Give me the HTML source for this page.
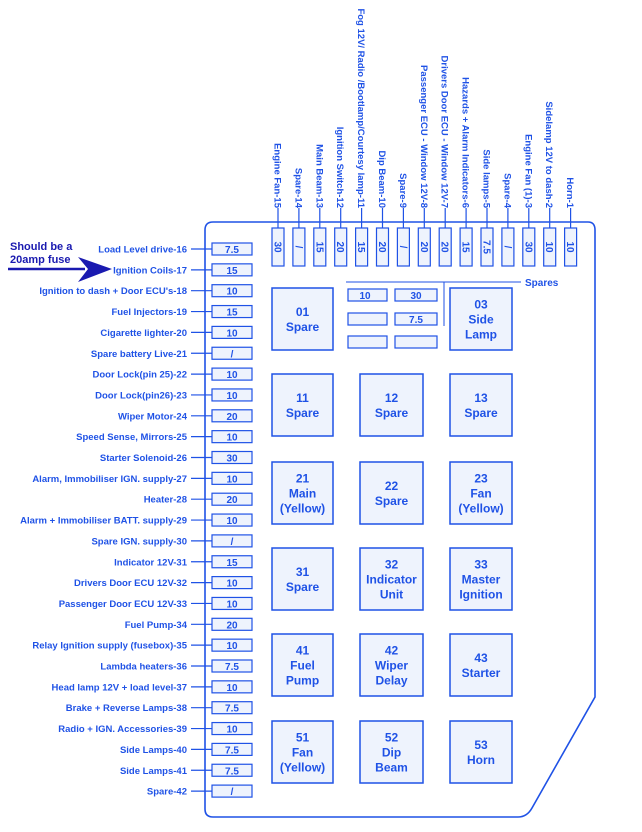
<!DOCTYPE html>
<html><head><meta charset="utf-8"><style>
html,body{margin:0;padding:0;background:#fff;}
svg{display:block;}
text{font-family:"Liberation Sans",sans-serif;fill:#1f52e6;}
</style></head><body>
<svg width="642" height="832" viewBox="0 0 642 832" xmlns="http://www.w3.org/2000/svg">
<g stroke="#1f52e6" fill="none" stroke-width="1.6">
<path d="M205,230 Q205,222 213,222 L588,222 Q595,222 595,230 L595,697 L532,808 Q527,817 518,817 L213,817 Q205,817 205,809 Z"/>
</g>
<g id="left"></g>
<g id="top"></g>
<g id="relays"></g>
<g stroke="#1f52e6" fill="#eef3fd" stroke-width="1.2">
<rect x="348" y="289" width="39" height="12"/><rect x="395" y="289" width="42" height="12"/>
<rect x="348" y="313" width="39" height="12"/><rect x="395" y="313" width="42" height="12"/>
<rect x="348" y="336" width="39" height="12"/><rect x="395" y="336" width="42" height="12"/>
</g>
<g stroke="#1f52e6" stroke-width="1">
<line x1="346" y1="282" x2="521" y2="282"/><line x1="444" y1="282" x2="444" y2="326"/>
</g>
<g font-size="10" font-weight="bold" text-anchor="middle">
<text x="365" y="299">10</text><text x="416" y="299">30</text><text x="416" y="323">7.5</text>
</g>
<text x="525" y="286" font-size="10" font-weight="bold">Spares</text>
<text x="10" y="250" font-size="11" font-weight="bold" style="fill:#1a1ab0">Should be a</text>
<text x="10" y="263" font-size="11" font-weight="bold" style="fill:#1a1ab0">20amp fuse</text>
<line x1="8" y1="269" x2="85" y2="269" stroke="#1a1ab0" stroke-width="2.5"/>
<polygon points="78,257 112,269 78,282 88,269" fill="#1a1ab0"/>
<script>
var NS="http://www.w3.org/2000/svg";
function el(p,t,a,txt){var e=document.createElementNS(NS,t);for(var k in a)e.setAttribute(k,a[k]);if(txt!=null)e.textContent=txt;p.appendChild(e);return e;}
var L=[["Load Level drive-16","7.5"],["Ignition Coils-17","15"],["Ignition to dash + Door ECU's-18","10"],["Fuel Injectors-19","15"],["Cigarette lighter-20","10"],["Spare battery Live-21","/"],["Door Lock(pin 25)-22","10"],["Door Lock(pin26)-23","10"],["Wiper Motor-24","20"],["Speed Sense, Mirrors-25","10"],["Starter Solenoid-26","30"],["Alarm, Immobiliser IGN. supply-27","10"],["Heater-28","20"],["Alarm + Immobiliser BATT. supply-29","10"],["Spare IGN. supply-30","/"],["Indicator 12V-31","15"],["Drivers Door ECU 12V-32","10"],["Passenger Door ECU 12V-33","10"],["Fuel Pump-34","20"],["Relay Ignition supply (fusebox)-35","10"],["Lambda heaters-36","7.5"],["Head lamp 12V + load level-37","10"],["Brake + Reverse Lamps-38","7.5"],["Radio + IGN. Accessories-39","10"],["Side Lamps-40","7.5"],["Side Lamps-41","7.5"],["Spare-42","/"]];
var g=document.getElementById("left");
L.forEach(function(r,i){var y=249+i*20.85;
el(g,"text",{x:187,y:y+3.5,"font-size":"9.5","font-weight":"bold","text-anchor":"end"},r[0]);
el(g,"line",{x1:191,y1:y,x2:216,y2:y,stroke:"#1f52e6","stroke-width":"1.2"});
el(g,"rect",{x:212,y:y-6,width:40,height:12,fill:"#eef3fd",stroke:"#1f52e6","stroke-width":"1.2"});
el(g,"text",{x:232,y:y+4,"font-size":"10","font-weight":"bold","text-anchor":"middle"},r[1]);});
var T=[["Engine Fan-15","30"],["Spare-14","/"],["Main Beam-13","15"],["Ignition Switch-12","20"],["Fog 12V/ Radio /Bootlamp/Courtesy lamp-11","15"],["Dip Beam-10","20"],["Spare-9","/"],["Passenger ECU - Window 12V-8","20"],["Drivers Door ECU - Window 12V-7","20"],["Hazards + Alarm Indicators-6","15"],["Side lamps-5","7.5"],["Spare-4","/"],["Engine Fan (1)-3","30"],["Sidelamp 12V to dash-2","10"],["Horn-1","10"]];
var tg=document.getElementById("top");
T.forEach(function(r,i){var x=278+i*20.9;
el(tg,"text",{x:0,y:0,"font-size":"9.5","font-weight":"bold","text-anchor":"end",transform:"translate("+(x-3.5)+",208) rotate(90)"},r[0]);
el(tg,"line",{x1:x,y1:208,x2:x,y2:232,stroke:"#1f52e6","stroke-width":"1.2"});
el(tg,"rect",{x:x-6,y:228,width:12,height:38,fill:"#eef3fd",stroke:"#1f52e6","stroke-width":"1.2"});
el(tg,"text",{x:0,y:0,"font-size":"10","font-weight":"bold","text-anchor":"middle",transform:"translate("+(x-3.5)+",247) rotate(90)"},r[1]);});
var R=[[["01","Spare"],null,["03","Side","Lamp"]],[["11","Spare"],["12","Spare"],["13","Spare"]],[["21","Main","(Yellow)"],["22","Spare"],["23","Fan","(Yellow)"]],[["31","Spare"],["32","Indicator","Unit"],["33","Master","Ignition"]],[["41","Fuel","Pump"],["42","Wiper","Delay"],["43","Starter"]],[["51","Fan","(Yellow)"],["52","Dip","Beam"],["53","Horn"]]];
var cx=[[272,61],[360,63],[450,62]];var ry=[288,374,462,548,634,721];
var rg=document.getElementById("relays");
R.forEach(function(row,ri){row.forEach(function(c,ci){if(!c)return;var x=cx[ci][0],w=cx[ci][1],y=ry[ri],h=62;
el(rg,"rect",{x:x,y:y,width:w,height:h,fill:"#eef3fd",stroke:"#1f52e6","stroke-width":"1.5"});
var n=c.length,lh=15,y0=y+h/2-(n-1)*lh/2+4.5;
c.forEach(function(s,k){el(rg,"text",{x:x+w/2,y:y0+k*lh,"font-size":"12","font-weight":"bold","text-anchor":"middle"},s);});});});
</script>
</svg>
</body></html>
